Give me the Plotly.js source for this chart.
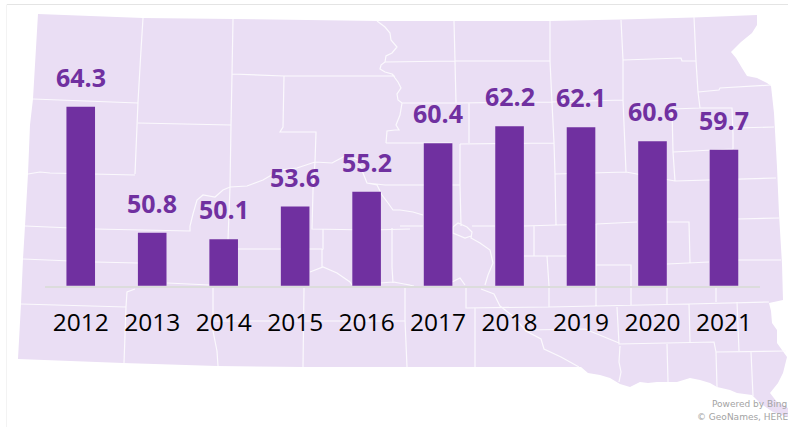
<!DOCTYPE html>
<html>
<head>
<meta charset="utf-8">
<script src="https://cdn.plot.ly/plotly-3.0.1.min.js"></script>
<style>html,body{margin:0;padding:0;background:#fff}#chart{width:788px;height:427px}</style>
</head>
<body>
<div id="chart"></div>
<script>
const years = ['2012','2013','2014','2015','2016','2017','2018','2019','2020','2021'];
const values = [64.3,50.8,50.1,53.6,55.2,60.4,62.2,62.1,60.6,59.7];

const W = 788, H = 427;
const PURPLE = '#7030a0';

// Decorative background map (South Dakota counties), traced in picture pixels.
const mapOutline = [[38,14],[143,18],[233,19],[378,21],[454,21],[550,21],[621,19.5],[694,17.5],[757,15],[757,25],[752,33],[741,42],[731,52],[736,58],[742,68],[747,76],[757,78],[767,83],[771,86],[774,113],[777,167],[779,214],[782,264],[783,300],[769,303],[771,311],[772,323],[777,330],[777,343],[787,357],[783,373],[778,383],[770,393],[777,402],[788,408],[788,417],[773,412],[760,403],[752,395],[737,393],[730,390],[717,387],[710,383],[700,380],[690,378],[677,382],[668,382],[657,382],[648,383],[640,382],[630,387],[620,384],[610,378],[600,375],[588,373],[581,367],[476,367],[394,367],[303,367],[217,366],[123,363],[18,359],[21,304],[23,259],[25,226],[28,174],[30,125],[33,99]];
const mapLines = [
 [[143,18],[141,50],[138,102],[135,174]],
 [[33,99],[138,103]],
 [[28,174],[40,172],[50,173],[135,175]],
 [[138,123],[231,125]],
 [[233,19],[232,74],[231,125],[230,187],[228,240]],
 [[232,74],[284,76],[394,76],[392,74]],
 [[284,76],[283,127],[280,132],[316,132],[315,162],[313,190],[312,229],[370,230],[410,229]],
 [[323,229],[323,249],[322,250],[322,267]],
 [[238,249],[322,249]],
 [[392,228],[392,267],[393,283]],
 [[377,21],[385,27],[390,33],[391,40],[397,47],[392,53],[386,56],[385,62],[381,65],[380,69],[385,72],[392,74],[398,82],[401,88],[397,94],[398,100],[402,103],[400,115],[396,125],[399,130],[395,130],[387,131],[386,143]],
 [[25,226],[95,229],[190,231],[190,226],[193,214],[197,200],[203,195],[215,197],[223,190],[230,187],[247,186],[263,180],[280,170],[297,168],[315,162],[332,163],[347,155],[358,160],[363,173],[367,183],[377,185],[382,195],[388,203],[393,210],[400,210],[413,212],[423,215]],
 [[367,183],[385,185],[394,185],[460,185]],
 [[385,62],[455,61],[550,61]],
 [[454,21],[455,61],[456,103]],
 [[402,103],[469,103],[469,143]],
 [[386,143],[452,143]],
 [[460,144],[554,143]],
 [[460,144],[460,185],[461,226]],
 [[400,226],[423,226]],
 [[472,226],[495,226]],
 [[524,226],[557,225],[596,224],[637,222]],
 [[534,226],[534,256]],
 [[524,256],[566,256]],
 [[547,256],[549,286],[549,307]],
 [[550,21],[550,61],[552,103],[554,143],[555,174],[556,225]],
 [[456,103],[552,102],[623,100]],
 [[621,20],[623,60],[623,100],[626,172]],
 [[623,60],[681,58],[682,61],[696,61]],
 [[694,17],[696,61],[698,92],[700,108]],
 [[698,92],[719,90],[720,88],[771,85]],
 [[672,109],[700,108],[732,108],[733,134],[733,149]],
 [[672,109],[673,152],[675,181]],
 [[673,152],[733,149]],
 [[733,128],[774,127]],
 [[555,174],[626,172]],
 [[626,172],[675,181],[776,178]],
 [[667,222],[689,222],[690,263]],
 [[738,219],[779,218]],
 [[738,260],[781,260]],
 [[596,224],[596,265],[596,306]],
 [[596,265],[631,265],[631,306]],
 [[667,264],[709,262]],
 [[667,288],[667,304]],
 [[716,288],[716,302]],
 [[466,288],[466,308],[549,307],[689,304],[769,302]],
 [[475,308],[475,367]],
 [[405,288],[405,320],[407,367]],
 [[213,321],[267,321],[394,321],[405,321]],
 [[617,307],[619,344],[714,342],[716,352],[786,351]],
 [[689,304],[690,342]],
 [[737,302],[739,351]],
 [[716,352],[717,387]],
 [[751,352],[753,396]],
 [[667,344],[668,382]],
 [[620,346],[619,362],[621,372],[619,382]],
 [[481,289],[494,294],[500,306],[514,317],[526,331],[541,339],[544,349],[561,357],[579,367]],
 [[527,330],[585,329],[619,343]],
 [[453,227],[458,223],[467,227],[472,232],[471,238],[480,243],[490,250],[493,263],[488,275],[485,285]],
 [[453,227],[453,233],[465,238],[471,236]],
 [[452,282],[460,278],[465,285]],
 [[394,282],[414,286]],
 [[310,272],[323,267],[337,273],[350,282],[352,285]],
 [[380,283],[393,282],[410,285]],
 [[23,259],[95,262],[138,263]],
 [[21,304],[126,307],[127,292],[135,289]],
 [[126,307],[124,363]],
 [[167,283],[210,285]],
 [[213,288],[213,331],[217,351],[218,366]],
 [[304,288],[303,367]]
];

function toPath(pts, close) {
  return pts.map((p, i) => (i ? 'L' : 'M') + (p[0] / W).toFixed(5) + ' ' + (1 - p[1] / H).toFixed(5)).join(' ') + (close ? ' Z' : '');
}

const shapes = [
  {type:'path', xref:'paper', yref:'paper', layer:'below', path:toPath(mapOutline,true), fillcolor:'#eadef4', line:{width:0}},
  {type:'path', xref:'paper', yref:'paper', layer:'below', path:mapLines.map(l=>toPath(l,false)).join(' '), fillcolor:'rgba(0,0,0,0)', line:{color:'#fbf9fd', width:1.2}},
  {type:'line', xref:'paper', yref:'paper', layer:'below', x0:7/W, x1:1, y0:1-4.5/H, y1:1-4.5/H, line:{color:'#e4e4e4', width:1}},
  {type:'line', xref:'paper', yref:'paper', layer:'below', x0:6.5/W, x1:6.5/W, y0:0, y1:1-4.5/H, line:{color:'#f3f3f3', width:1}}
];

const labels = years.map((y, i) => ({
  x: i, y: values[i], xref:'x', yref:'y', text: values[i].toFixed(1),
  showarrow:false, xanchor:'center', yanchor:'bottom', yshift:11,
  font:{family:'"Open Sans", sans-serif', size:25, color:PURPLE, weight:700}
}));

const credits = [
  {text:'Powered by Bing', x:712/W, y:1-(411)/H, xref:'paper', yref:'paper', showarrow:false, xanchor:'left', yanchor:'bottom', xshift:-2,
   font:{family:'"DejaVu Sans", sans-serif', size:9, color:'#a3a3a3'}},
  {text:'© GeoNames, HERE', x:697/W, y:1-(424)/H, xref:'paper', yref:'paper', showarrow:false, xanchor:'left', yanchor:'bottom', xshift:-2,
   font:{family:'"DejaVu Sans", sans-serif', size:9, color:'#a3a3a3'}}
];

Plotly.newPlot('chart', [{
  type:'bar', x:years, y:values, marker:{color:PURPLE, line:{width:0}}, hoverinfo:'x+y', cliponaxis:true
}], {
  width:W, height:H,
  margin:{l:0, r:0, t:0, b:0},
  paper_bgcolor:'#ffffff', plot_bgcolor:'rgba(0,0,0,0)',
  showlegend:false, bargap:0.6,
  xaxis:{type:'category', range:[-0.5, 9.5], domain:[45/W, 759.7/W], anchor:'y', showgrid:false, zeroline:false,
    showline:true, linecolor:'#dcdcdc', linewidth:2, ticks:'', ticklabelstandoff:14,
    tickfont:{family:'"Open Sans", sans-serif', size:24.5, color:'#000000'}, automargin:false},
  yaxis:{domain:[1-285.7/H, 1-20/H], range:[45.12, 73.6], visible:false, fixedrange:true},
  shapes:shapes,
  annotations:labels.concat(credits)
}, {displayModeBar:false, staticPlot:true});
</script>
</body>
</html>
